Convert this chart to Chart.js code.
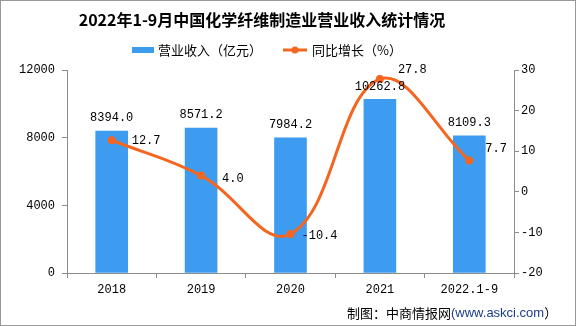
<!DOCTYPE html>
<html>
<head>
<meta charset="utf-8">
<script src="https://cdn.jsdelivr.net/npm/chart.js@4"></script>
<style>
  html, body { margin: 0; padding: 0; background: #fff; }
  #wrap { width: 576px; height: 326px; position: relative; }
</style>
</head>
<body>
<div id="wrap"><canvas id="chart"></canvas></div>
<script>
// 年份及营业收入、同比增长数据
const years = ['2018', '2019', '2020', '2021', '2022.1-9'];
const revenue = [8394.0, 8571.2, 7984.2, 10262.8, 8109.3];
const growth = [12.7, 4.0, -10.4, 27.8, 7.7];

const titleText = '2022年1-9月中国化学纤维制造业营业收入统计情况';
const revenueLabel = '营业收入（亿元）';
const growthLabel = '同比增长（%）';

const BLUE = '#3d9cef';
const ORANGE = '#f4661f';
const AXIS = '#8c8c8c';
const MONO = '"Liberation Mono", monospace';
const NUM_FONT = '12px ' + MONO;
const CJK = '"Noto Sans CJK SC", sans-serif';

// 标题、图例、数值标签、来源及外框
const decor = {
  id: 'decor',
  afterDatasetsDraw(chart) {
    const ctx = chart.ctx;
    ctx.save();
    ctx.fillStyle = '#000';
    ctx.textBaseline = 'middle';

    // 柱状数值
    ctx.font = NUM_FONT;
    ctx.textAlign = 'center';
    chart.getDatasetMeta(1).data.forEach((bar, i) => {
      ctx.fillText(revenue[i].toFixed(1), bar.x, bar.y - 13);
    });

    // 折线数值，放在点的右侧
    const dx = [20, 21, 11, 18, 16];
    const dy = [1, 3, 2, -9, -12];
    ctx.textAlign = 'left';
    chart.getDatasetMeta(0).data.forEach((pt, i) => {
      ctx.fillText(growth[i].toFixed(1), pt.x + dx[i], pt.y + dy[i]);
    });

    // 标题
    ctx.textAlign = 'center';
    ctx.font = 'bold 16px ' + CJK;
    ctx.fillText(titleText, 262, 20);

    // 图例
    ctx.textAlign = 'left';
    ctx.font = '13px ' + CJK;
    ctx.fillStyle = BLUE;
    ctx.fillRect(132, 47, 22, 6);
    ctx.fillStyle = '#000';
    ctx.fillText(revenueLabel, 158, 50);
    ctx.strokeStyle = ORANGE;
    ctx.lineWidth = 3;
    ctx.beginPath();
    ctx.moveTo(283, 50);
    ctx.lineTo(307, 50);
    ctx.stroke();
    ctx.fillStyle = ORANGE;
    ctx.beginPath();
    ctx.arc(295, 50, 3.5, 0, Math.PI * 2);
    ctx.fill();
    ctx.fillStyle = '#000';
    ctx.fillText(growthLabel, 312, 50);

    // 来源
    let x = 347;
    ctx.font = '13px ' + CJK;
    ctx.fillText('制图：中商情报网', x, 313);
    x += ctx.measureText('制图：中商情报网').width;
    ctx.font = '13px "Liberation Sans", sans-serif';
    ctx.fillStyle = '#1c3b88';
    ctx.fillText('(www.askci.com', x, 313);
    x += ctx.measureText('(www.askci.com').width;
    ctx.font = '13px ' + CJK;
    ctx.fillStyle = '#000';
    ctx.fillText('）', x, 313);

    // 外框
    ctx.strokeStyle = '#999';
    ctx.lineWidth = 1;
    ctx.strokeRect(0.5, 0.5, 575, 325);
    ctx.restore();
  }
};

const tickFont = { family: 'Liberation Mono', size: 12 };
const plain = v => String(v);

new Chart(document.getElementById('chart'), {
  data: {
    labels: years,
    datasets: [
      {
        type: 'line',
        label: growthLabel,
        data: growth,
        yAxisID: 'y1',
        borderColor: ORANGE,
        backgroundColor: ORANGE,
        borderWidth: 3,
        pointRadius: 4,
        pointBackgroundColor: ORANGE,
        pointBorderWidth: 0,
        tension: 0.4,
        order: 0
      },
      {
        type: 'bar',
        label: revenueLabel,
        data: revenue,
        yAxisID: 'y',
        backgroundColor: BLUE,
        barThickness: 32,
        order: 1
      }
    ]
  },
  options: {
    responsive: true,
    maintainAspectRatio: false,
    animation: false,
    layout: { padding: { top: 70, left: 0, right: 0, bottom: 0 } },
    plugins: {
      legend: { display: false },
      title: { display: false },
      tooltip: { enabled: false }
    },
    scales: {
      x: {
        offset: true,
        grid: { display: true, drawOnChartArea: false, offset: true, tickLength: 5, tickColor: AXIS },
        border: { color: AXIS, width: 1 },
        ticks: { color: '#000', font: tickFont, padding: 5, maxRotation: 0 },
        afterFit(scale) { scale.height = 53; }
      },
      y: {
        position: 'left',
        min: 0,
        max: 12000,
        ticks: { stepSize: 4000, color: '#000', font: tickFont, padding: 7, callback: plain },
        grid: { display: true, drawOnChartArea: false, tickLength: 5, tickColor: AXIS },
        border: { color: AXIS, width: 1 },
        afterFit(scale) { scale.width = 67; }
      },
      y1: {
        position: 'right',
        min: -20,
        max: 30,
        ticks: { stepSize: 10, color: '#000', font: tickFont, padding: 2, callback: plain },
        grid: { display: true, drawOnChartArea: false, tickLength: 5, tickColor: AXIS },
        border: { color: AXIS, width: 1 },
        afterFit(scale) { scale.width = 62; }
      }
    }
  },
  plugins: [decor]
});
</script>
</body>
</html>
